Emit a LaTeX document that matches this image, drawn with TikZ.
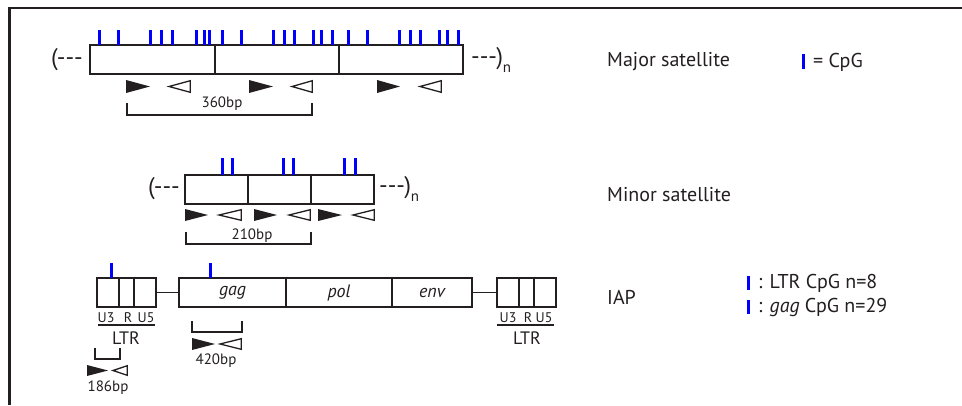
\documentclass[tikz,border=0pt]{standalone}
\usepackage{fontspec}
\setmainfont{PT Sans}[Ligatures=TeXOff]
\definecolor{ink}{HTML}{231F20}
\definecolor{cpgblue}{RGB}{0,0,255}
\newcommand\fwdtri[4]{\fill[ink] (#1,#3) -- (#2,{(#3+#4)/2}) -- (#1,#4) -- cycle;}
\newcommand\revtri[4]{\draw[ink,line width=1.3pt,line join=miter] (#2-0.7,#3+0.7) -- (#1+1,{(#3+#4)/2}) -- (#2-0.7,#4-0.7) -- cycle;}
\tikzset{
  seg/.style={draw=ink, line width=1.5pt, minimum height=29pt, inner sep=0pt, outer sep=0pt, font=\fontsize{18}{18}\selectfont\itshape, text=ink},
  cpg/.style={draw=cpgblue, line width=3pt},
  brk/.style={draw=ink, line width=1.3pt},
  link/.style={draw=ink, line width=1.5pt},
  lbl/.style={font=\fontsize{20}{20}\selectfont, text=ink, inner sep=0pt, anchor=west},
  small/.style={font=\fontsize{15}{15}\selectfont, text=ink, inner sep=0pt},
  tiny/.style={font=\fontsize{14}{14}\selectfont, text=ink, inner sep=0pt},
  ltr/.style={font=\fontsize{18}{18}\selectfont, text=ink, inner sep=0pt},
  paren/.style={font=\fontsize{24}{24}\selectfont, text=ink, inner sep=0pt},
}
\newcommand\subn{\raisebox{-8pt}{\fontsize{15}{15}\selectfont n}}
\begin{document}
\begin{tikzpicture}[x=1pt,y=-1pt]
\useasboundingbox (0,0) rectangle (962,405);
\draw[ink,line width=2.5pt] (9.5,405) -- (9.5,8) -- (962,8);

% ---------- Major satellite ----------
\node[seg, minimum width=125pt] (ma1) at (152.5,59.5) {};
\node[seg, minimum width=124pt] (ma2) at (277,59.5) {};
\node[seg, minimum width=124pt] (ma3) at (401,59.5) {};
\foreach \x in {99,118,150,161,172,196,204,209,222,241,273,284,294,313,321,332,348,367,399,410,420,439,447,458}
  \draw[cpg] (\x,30) -- (\x,45);
\node[paren, anchor=east] (mal) at (83,60) {(---};
\node[paren, anchor=west] (mar) at (471,60) {---)\subn};
\fwdtri{126}{150}{80}{93}\revtri{168}{191}{80}{93}
\fwdtri{249}{273}{80}{93}\revtri{291}{313}{80}{93}
\fwdtri{377}{400}{80}{93}\revtri{419}{442}{80}{93}
\coordinate (b360a) at (127,103);
\coordinate (b360b) at (312,103);
\draw[brk] (b360a) -- ++(0,12) -| (b360b);
\node[small] (l360) at (222,104) {360bp};
\node[lbl] (tmajor) at (607,62) {Major satellite};
\draw[cpg] (803,54) coordinate (lg0) -- (803,69);
\node[lbl] (tcpg) at (813,62) {= CpG};

% ---------- Minor satellite ----------
\node[seg, minimum width=63pt] (mi1) at (216.5,189.5) {};
\node[seg, minimum width=63pt] (mi2) at (279.5,189.5) {};
\node[seg, minimum width=63pt] (mi3) at (342.5,189.5) {};
\foreach \x in {222,232,283,293,344,355}
  \draw[cpg] (\x,158) -- (\x,175);
\node[paren, anchor=east] (mil) at (180,189) {(---};
\node[paren, anchor=west] (mir) at (379,189) {---)\subn};
\fwdtri{185}{208}{209}{221}\revtri{218}{242}{209}{221}
\fwdtri{254}{277}{209}{221}\revtri{288}{311}{209}{221}
\fwdtri{318}{342}{209}{221}\revtri{352}{375}{209}{221}
\coordinate (b210a) at (186,232);
\coordinate (b210b) at (311,232);
\draw[brk] (b210a) -- ++(0,12) -| (b210b);
\node[small] (l210) at (252,236) {210bp};
\node[lbl] (tminor) at (607,195) {Minor satellite};

% ---------- IAP ----------
\node[seg, minimum width=22pt] (u3a) at (108,292.5) {};
\node[seg, minimum width=15pt] (ra) at (126.5,292.5) {};
\node[seg, minimum width=22pt] (u5a) at (145,292.5) {};
\node[seg, minimum width=107pt] (gag) at (232.5,292.5) {gag};
\node[seg, minimum width=106pt] (pol) at (339,292.5) {pol};
\node[seg, minimum width=80pt] (env) at (432,292.5) {env};
\node[seg, minimum width=22pt] (u3b) at (508,292.5) {};
\node[seg, minimum width=15pt] (rb) at (526.5,292.5) {};
\node[seg, minimum width=22pt] (u5b) at (545,292.5) {};
\draw[link] (u5a.east) -- (gag.west);
\draw[link] (env.east) -- (u3b.west);
\draw[cpg] (111,263) -- (111,278);
\draw[cpg] (210,263) -- (210,278);
\node[tiny] (tu3a) at (106,317.5) {U3};
\node[tiny] (tra) at (128,317.5) {R};
\node[tiny] (tu5a) at (146,317.5) {U5};
\draw[ink,line width=2pt] (98,325) -- (155,325);
\node[ltr] (tltra) at (126,338) {LTR};
\node[tiny] (tu3b) at (508,317.5) {U3};
\node[tiny] (trb) at (528,317.5) {R};
\node[tiny] (tu5b) at (544,317.5) {U5};
\draw[ink,line width=2pt] (497,325) -- (554,325);
\node[ltr] (tltrb) at (527,338) {LTR};
\coordinate (b420a) at (192,321);
\coordinate (b420b) at (242,321);
\draw[brk] (b420a) -- ++(0,11) -| (b420b);
\fwdtri{192}{215}{338}{350}\revtri{219}{242}{338}{350}
\node[small] (l420) at (216,361) {420bp};
\coordinate (b186a) at (95,348);
\coordinate (b186b) at (120,348);
\draw[brk] (b186a) -- ++(0,11) -| (b186b);
\fwdtri{87}{108}{365}{376}\revtri{112}{128}{365}{376}
\node[small] (l186) at (108,388) {186bp};
\node[lbl] (tiap) at (607,297) {IAP};
\draw[cpg] (748,276) -- (748,290);
\draw[cpg] (748,300) -- (748,314);
\node[lbl] (tleg1) at (758,283) {: LTR CpG n=8};
\node[lbl] (tleg2) at (758,307) {: \textit{gag} CpG n=29};
\end{tikzpicture}
\end{document}
